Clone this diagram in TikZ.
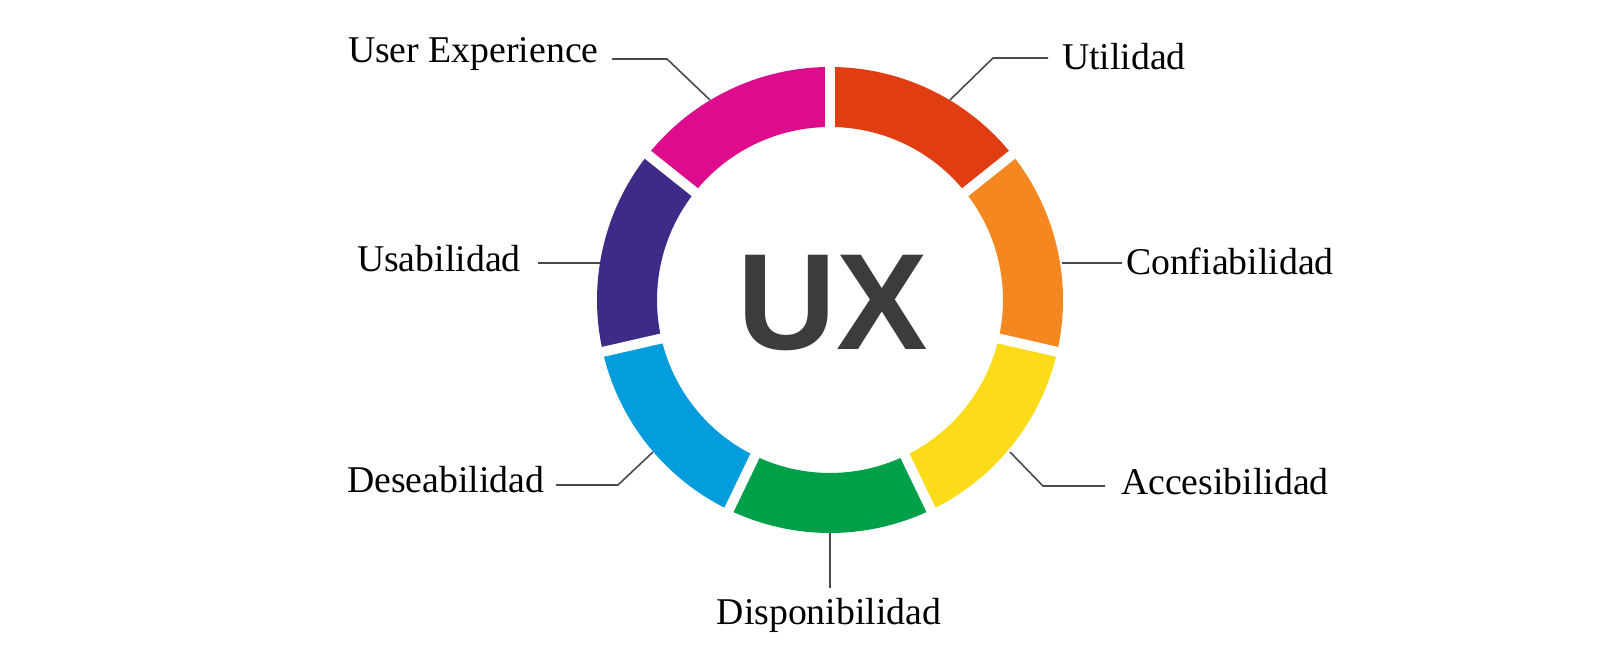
\documentclass[tikz,border=0pt]{standalone}
\usepackage{fontspec}
\setmainfont{Liberation Serif}
\newfontfamily\uxfont{Liberation Sans}
\definecolor{cMag}{HTML}{DC0C8C}
\definecolor{cRed}{HTML}{E03E12}
\definecolor{cOra}{HTML}{F58720}
\definecolor{cYel}{HTML}{FCDC18}
\definecolor{cGre}{HTML}{00A04B}
\definecolor{cBlu}{HTML}{039DDD}
\definecolor{cPur}{HTML}{402A88}
\definecolor{cLine}{HTML}{4A4A4A}
\definecolor{cUX}{HTML}{3C3C3C}
\begin{document}
\begin{tikzpicture}[x=0.02cm,y=0.02cm,
  lab/.style={inner sep=0pt,outer sep=0pt,font=\fontsize{21.5}{24}\selectfont,text=black},
  leader/.style={draw=cLine,line width=0.9pt},
  gapline/.style={draw=white,line width=5.67pt}]
\useasboundingbox (0,0) rectangle (1600,672);
\fill[white] (0,0) rectangle (1600,672);
\begin{scope}[shift={(830,372)}]
  \foreach \a/\b/\c in {90/141.43/cMag, 38.57/90/cRed, -12.86/38.57/cOra, -64.29/-12.86/cYel, -115.71/-64.29/cGre, -167.14/-115.71/cBlu, 141.43/192.86/cPur}{
    \fill[\c] (\a:233) arc[start angle=\a,end angle=\b,radius=4.66cm] -- (\b:173) arc[start angle=\b,end angle=\a,radius=3.46cm] -- cycle;
  }
  \foreach \g in {90,38.57,-12.86,-64.29,-115.71,-167.14,141.43}{
    \draw[gapline] (\g:160) -- (\g:245);
  }
\end{scope}
% center text
\node[inner sep=0pt,anchor=base,text=cUX,font=\uxfont\bfseries\fontsize{78}{80}\selectfont] (ux) at (833,322) {UX};
% labels
\node[lab,anchor=base west] (ue) at (348,609) {User Experience};
\node[lab,anchor=base west] (ut) at (1062,602) {Utilidad};
\node[lab,anchor=base west] (us) at (357,400) {Usabilidad};
\node[lab,anchor=base west] (co) at (1126,397) {Confiabilidad};
\node[lab,anchor=base west] (de) at (347,179) {Deseabilidad};
\node[lab,anchor=base west] (ac) at (1121,177) {Accesibilidad};
\node[lab,anchor=base] (di) at (829,47) {Disponibilidad};
% leader coordinates
\coordinate (ueA) at (612,613); \coordinate (ueB) at (667,613); \coordinate (ueC) at (710,572);
\coordinate (utA) at (1048,614); \coordinate (utB) at (993,614); \coordinate (utC) at (950,572);
\coordinate (usA) at (538,409); \coordinate (usC) at (600,409);
\coordinate (coA) at (1122,409); \coordinate (coC) at (1062,409);
\coordinate (deA) at (556,187); \coordinate (deB) at (618,187); \coordinate (deC) at (653,220);
\coordinate (acA) at (1105,186); \coordinate (acB) at (1043,186); \coordinate (acC) at (1010,220);
\coordinate (diA) at (830,84); \coordinate (diC) at (830,139);
\draw[leader] (ueA) -- (ueB) -- (ueC);
\draw[leader] (utA) -- (utB) -- (utC);
\draw[leader] (usA) -- (usC);
\draw[leader] (coA) -- (coC);
\draw[leader] (deA) -- (deB) -- (deC);
\draw[leader] (acA) -- (acB) -- (acC);
\draw[leader] (diA) -- (diC);
\end{tikzpicture}
\end{document}
